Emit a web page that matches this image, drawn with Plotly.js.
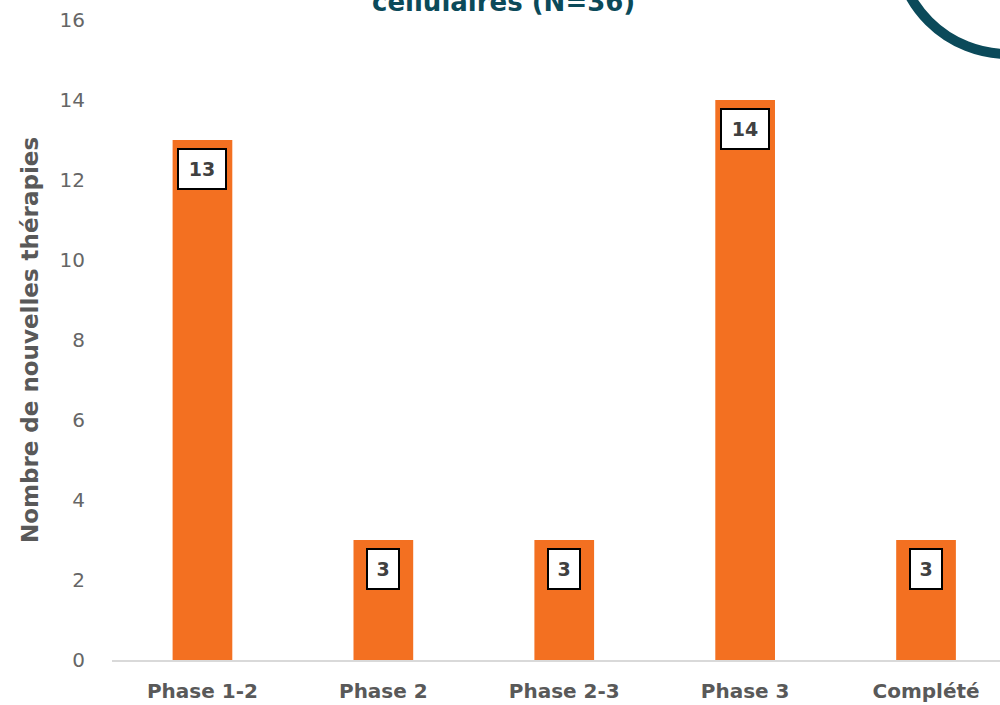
<!DOCTYPE html>
<html>
<head>
<meta charset="utf-8">
<script src="https://cdn.plot.ly/plotly-3.0.1.min.js"></script>
<style>html,body{margin:0;padding:0;background:#fff;}#chart{width:1000px;height:705px;}</style>
</head>
<body>
<div id="chart"></div>
<script>
const categories = ["Phase 1-2", "Phase 2", "Phase 2-3", "Phase 3", "Complété"];
const values = [13, 3, 3, 14, 3];
const yTicks = [0, 2, 4, 6, 8, 10, 12, 14, 16];
const titleText = "cellulaires (N=36)";
const yTitle = "Nombre de nouvelles thérapies";

const W = 1000, H = 705;
const L = 111.5, R = 1000, T = 20, B = 660;
const px = x => (x - L) / (R - L);
const py = y => (B - y) / (B - T);
const FONT = 'DejaVu Sans';

const annotations = values.map((v, i) => ({
  x: categories[i], y: v, xref: 'x', yref: 'y',
  text: '<b>' + String(v) + '</b>', showarrow: false,
  yanchor: 'top', yshift: -8,
  width: 16 * String(v).length, height: 24,
  font: {family: FONT, size: 19, color: '#404040'},
  bgcolor: '#ffffff', bordercolor: '#000000', borderwidth: 2, borderpad: 7
}));
annotations.push({
  x: px(503), y: py(19), xref: 'paper', yref: 'paper',
  xanchor: 'center', yanchor: 'bottom', showarrow: false,
  text: '<b>' + titleText + '</b>',
  font: {family: FONT, size: 26, color: '#0B4A5A'}
});

const data = [{
  type: 'bar', x: categories, y: values,
  marker: {color: '#F37021'},
  hoverinfo: 'skip'
}];

const layout = {
  width: W, height: H,
  margin: {l: L, r: W - R, t: T, b: H - B, pad: 0},
  paper_bgcolor: '#ffffff', plot_bgcolor: '#ffffff',
  showlegend: false,
  bargap: 0.67,
  xaxis: {
    range: [-0.5, -0.5 + (R - L) / 181],
    showgrid: false, zeroline: false,
    showline: true, linecolor: '#D9D9D9', linewidth: 2,
    ticks: 'outside', ticklen: 12, tickcolor: 'rgba(0,0,0,0)',
    tickfont: {family: FONT, size: 20, color: '#595959', weight: 'bold'},
    fixedrange: true
  },
  yaxis: {
    range: [0, 16], tickvals: yTicks, ticktext: yTicks.map(String),
    showgrid: false, zeroline: false, showline: false,
    ticks: 'outside', ticklen: 22, tickcolor: 'rgba(0,0,0,0)',
    tickfont: {family: FONT, size: 20, color: '#666666'},
    title: {text: '<b>' + yTitle + '</b>', standoff: 14,
            font: {family: FONT, size: 23, color: '#595959'}},
    automargin: false,
    fixedrange: true
  },
  annotations: annotations,
  shapes: [{
    type: 'circle', xref: 'paper', yref: 'paper',
    x0: px(1008 - 112), x1: px(1008 + 112),
    y0: py(-58 + 112), y1: py(-58 - 112),
    line: {color: '#0B4A5A', width: 10},
    fillcolor: 'rgba(0,0,0,0)'
  }]
};

Plotly.newPlot('chart', data, layout, {displayModeBar: false, staticPlot: true});
</script>
</body>
</html>
